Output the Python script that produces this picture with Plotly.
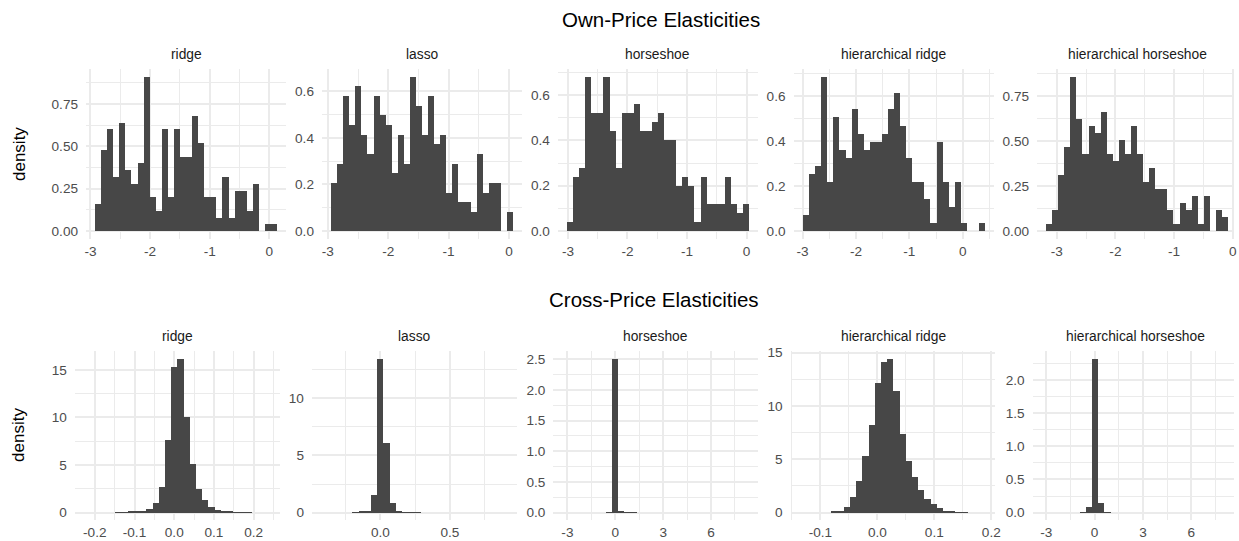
import plotly.graph_objects as go

W, H = 1239, 541
FONT = "Liberation Sans, Arial, Helvetica, sans-serif"
BAR = "#474747"
GRID = "#EBEBEB"

panel_names = ["ridge", "lasso", "horseshoe", "hierarchical ridge", "hierarchical horseshoe"]

# ---------------- Own-price elasticities (density per bin) ----------------
own_start = [-2.922, -2.946, -3.017, -3.000, -3.180]
own_width = [0.1017, 0.1004, 0.1019, 0.1136, 0.1033]

own_ridge = [0.16, 0.48, 0.60, 0.32, 0.64, 0.36, 0.28, 0.40, 0.91, 0.20,
             0.12, 0.60, 0.20, 0.60, 0.44, 0.44, 0.68, 0.52, 0.20, 0.20,
             0.08, 0.32, 0.08, 0.24, 0.24, 0.12, 0.28, 0.00, 0.04, 0.04]
own_lasso = [0.207, 0.290, 0.580, 0.455, 0.621, 0.414, 0.331, 0.580, 0.497, 0.455,
             0.248, 0.414, 0.290, 0.662, 0.538, 0.414, 0.580, 0.373, 0.414, 0.166,
             0.290, 0.124, 0.124, 0.083, 0.331, 0.166, 0.207, 0.207, 0.000, 0.083]
own_horseshoe = [0.04, 0.24, 0.28, 0.68, 0.52, 0.52, 0.68, 0.44, 0.28, 0.52,
                 0.52, 0.56, 0.44, 0.44, 0.48, 0.52, 0.40, 0.40, 0.20, 0.24,
                 0.20, 0.04, 0.24, 0.12, 0.12, 0.12, 0.24, 0.12, 0.08, 0.12]
own_hier_ridge = [0.072, 0.253, 0.289, 0.687, 0.217, 0.506, 0.362, 0.325, 0.542, 0.434,
                  0.362, 0.398, 0.398, 0.434, 0.542, 0.615, 0.470, 0.325, 0.217, 0.217,
                  0.145, 0.036, 0.398, 0.217, 0.108, 0.217, 0.036, 0.000, 0.000, 0.036]
own_hier_horseshoe = [0.039, 0.117, 0.312, 0.468, 0.858, 0.624, 0.429, 0.585, 0.546, 0.663,
                      0.429, 0.390, 0.507, 0.429, 0.585, 0.429, 0.273, 0.351, 0.234, 0.234,
                      0.117, 0.039, 0.156, 0.117, 0.195, 0.039, 0.195, 0.000, 0.117, 0.078]

# ---------------- Cross-price elasticities (density per bin) ----------------
cross_start = [-0.2266, -0.426, -3.297, -0.136, -3.267]
cross_width = [0.01562, 0.0447, 0.389, 0.0109, 0.385]

cross_ridge = [0.0, 0.0, 0.0, 0.0, 0.0, 0.02, 0.04, 0.07, 0.10, 0.17,
               0.40, 1.04, 2.74, 7.6, 15.28, 16.18, 10.0, 5.1, 2.53, 1.28,
               0.59, 0.24, 0.14, 0.07, 0.04, 0.02, 0.01, 0.0, 0.0, 0.0]
cross_lasso = [0.0, 0.0, 0.0, 0.0, 0.0, 0.04, 0.07, 0.11, 1.5, 13.46,
               6.1, 0.84, 0.12, 0.05, 0.03, 0.02, 0.0, 0.0, 0.0, 0.0,
               0.0, 0.0, 0.0, 0.0, 0.0, 0.0, 0.0, 0.0, 0.0, 0.0]
cross_horseshoe = [0.0, 0.0, 0.0, 0.0, 0.0, 0.0, 0.0, 0.005, 2.51, 0.03,
                   0.005, 0.002, 0.0, 0.0, 0.0, 0.0, 0.0, 0.0, 0.0, 0.0,
                   0.0, 0.0, 0.0, 0.0, 0.0, 0.0, 0.0, 0.0, 0.0, 0.0]
cross_hier_ridge = [0.0, 0.0, 0.0, 0.0, 0.0, 0.06, 0.12, 0.5, 1.43, 2.97,
                    5.27, 8.2, 12.2, 14.1, 14.44, 11.43, 7.34, 4.87, 3.38, 2.14,
                    1.24, 0.84, 0.46, 0.19, 0.09, 0.03, 0.02, 0.0, 0.0, 0.0]
cross_hier_horseshoe = [0.0, 0.0, 0.0, 0.0, 0.0, 0.0, 0.005, 0.09, 2.32, 0.14,
                        0.005, 0.0, 0.0, 0.0, 0.0, 0.0, 0.0, 0.0, 0.0, 0.0,
                        0.0, 0.0, 0.0, 0.0, 0.0, 0.0, 0.0, 0.0, 0.0, 0.0]

own_data = [own_ridge, own_lasso, own_horseshoe, own_hier_ridge, own_hier_horseshoe]
cross_data = [cross_ridge, cross_lasso, cross_horseshoe, cross_hier_ridge, cross_hier_horseshoe]

# ---------------- tick labels ----------------
own_xtickvals = [[-3, -2, -1, 0]] * 5
own_xticktext = [["-3", "-2", "-1", "0"]] * 5
own_xminor = [0.5] * 5
own_ytickvals = [[0, 0.25, 0.5, 0.75], [0, 0.2, 0.4, 0.6], [0, 0.2, 0.4, 0.6],
                 [0, 0.2, 0.4, 0.6], [0, 0.25, 0.5, 0.75]]
own_yticktext = [["0.00", "0.25", "0.50", "0.75"], ["0.0", "0.2", "0.4", "0.6"],
                 ["0.0", "0.2", "0.4", "0.6"], ["0.0", "0.2", "0.4", "0.6"],
                 ["0.00", "0.25", "0.50", "0.75"]]
own_yminor = [0.125, 0.1, 0.1, 0.1, 0.125]

cross_xtickvals = [[-0.2, -0.1, 0, 0.1, 0.2], [0, 0.5], [-3, 0, 3, 6],
                   [-0.1, 0, 0.1, 0.2], [-3, 0, 3, 6]]
cross_xticktext = [["-0.2", "-0.1", "0.0", "0.1", "0.2"], ["0.0", "0.5"], ["-3", "0", "3", "6"],
                   ["-0.1", "0.0", "0.1", "0.2"], ["-3", "0", "3", "6"]]
cross_xminor = [0.05, 0.25, 1.5, 0.05, 1.5]
cross_ytickvals = [[0, 5, 10, 15], [0, 5, 10], [0, 0.5, 1, 1.5, 2, 2.5],
                   [0, 5, 10, 15], [0, 0.5, 1, 1.5, 2]]
cross_yticktext = [["0", "5", "10", "15"], ["0", "5", "10"],
                   ["0.0", "0.5", "1.0", "1.5", "2.0", "2.5"],
                   ["0", "5", "10", "15"], ["0.0", "0.5", "1.0", "1.5", "2.0"]]
cross_yminor = [2.5, 2.5, 0.25, 2.5, 0.25]

# ---------------- layout geometry (pixels) ----------------
own_left = [84.5, 321.8, 559.0, 796.0, 1040.9]
own_pw = 201.3
own_top, own_bottom = 64.5, 236.1
cross_left = [73.3, 311.7, 554.5, 793.1, 1036.5]
cross_pw = 206.0
cross_top, cross_bottom = 349.2, 520.1

fig = go.Figure()
layout = dict(
    width=W, height=H, margin=dict(l=0, r=0, t=0, b=0),
    plot_bgcolor="white", paper_bgcolor="white",
    showlegend=False, bargap=0, barmode="overlay",
    font=dict(family=FONT, color="#4D4D4D"),
)
annotations = []

def add_panel(idx, start, width, dens, left, pw, top, bottom,
              xtv, xtt, xmin, ytv, ytt, ymin, name):
    n = len(dens)
    centers = [start + (k + 0.5) * width for k in range(n)]
    xa = "x" if idx == 1 else f"x{idx}"
    ya = "y" if idx == 1 else f"y{idx}"
    fig.add_trace(go.Bar(x=centers, y=dens, width=[width] * n,
                         marker=dict(color=BAR, line=dict(width=0)),
                         xaxis=xa, yaxis=ya, hoverinfo="skip"))
    lo, hi = start, start + n * width
    pad = 0.05 * (hi - lo)
    r0, r1 = lo - pad, hi + pad
    right = left + pw
    if right > W:
        r1 = r0 + (r1 - r0) * (W - left) / (right - left)
        right = W
    ymax = max(dens)
    yr = [-0.05 * ymax, 1.05 * ymax]
    tickfont = dict(family=FONT, size=13.6, color="#4D4D4D")
    layout["xaxis" if idx == 1 else f"xaxis{idx}"] = dict(
        domain=[left / W, right / W], range=[r0, r1], anchor=ya,
        tickmode="array", tickvals=xtv, ticktext=xtt, tickfont=tickfont,
        showgrid=True, gridcolor=GRID, gridwidth=1.6, zeroline=False, showline=False,
        ticks="", ticklabelstandoff=2,
        minor=dict(tickmode="linear", tick0=0, dtick=xmin, showgrid=True,
                   gridcolor=GRID, gridwidth=0.9),
        fixedrange=True,
    )
    layout["yaxis" if idx == 1 else f"yaxis{idx}"] = dict(
        domain=[1 - bottom / H, 1 - top / H], range=yr, anchor=xa,
        tickmode="array", tickvals=ytv, ticktext=ytt, tickfont=tickfont,
        showgrid=True, gridcolor=GRID, gridwidth=1.6, zeroline=False, showline=False,
        ticks="", ticklabelstandoff=7,
        minor=dict(tickmode="linear", tick0=0, dtick=ymin, showgrid=True,
                   gridcolor=GRID, gridwidth=0.9),
        fixedrange=True,
    )
    annotations.append(dict(
        text=name, xref="paper", yref="paper",
        x=(left + pw / 2) / W,
        y=1 - (top - 15) / H, xanchor="center", yanchor="middle",
        showarrow=False, font=dict(family=FONT, size=13.8, color="#1A1A1A")))

for i in range(5):
    add_panel(i + 1, own_start[i], own_width[i], own_data[i], own_left[i], own_pw,
              own_top, own_bottom, own_xtickvals[i], own_xticktext[i], own_xminor[i],
              own_ytickvals[i], own_yticktext[i], own_yminor[i], panel_names[i])
for i in range(5):
    add_panel(i + 6, cross_start[i], cross_width[i], cross_data[i], cross_left[i], cross_pw,
              cross_top, cross_bottom, cross_xtickvals[i], cross_xticktext[i], cross_xminor[i],
              cross_ytickvals[i], cross_yticktext[i], cross_yminor[i], panel_names[i])

# row titles
annotations.append(dict(text="Own-Price Elasticities", xref="paper", yref="paper",
                        x=663 / W, y=1 - 15 / H, xanchor="center", yanchor="middle",
                        showarrow=False, font=dict(family=FONT, size=20.5, color="black")))
annotations.append(dict(text="Cross-Price Elasticities", xref="paper", yref="paper",
                        x=656 / W, y=1 - 297 / H, xanchor="center", yanchor="middle",
                        showarrow=False, font=dict(family=FONT, size=20.5, color="black")))
# y axis titles
for yc in (150.5, 434.0):
    annotations.append(dict(text="density", xref="paper", yref="paper",
                            x=17 / W, y=1 - yc / H, xanchor="center", yanchor="middle",
                            textangle=-90, showarrow=False,
                            font=dict(family=FONT, size=17, color="black")))

layout["annotations"] = annotations
fig.update_layout(**layout)
fig.write_html("out.html")
